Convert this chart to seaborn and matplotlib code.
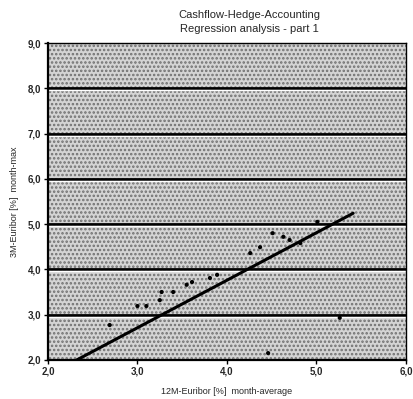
import matplotlib
matplotlib.use("Agg")
import matplotlib.pyplot as plt
from matplotlib.patches import Rectangle
import seaborn as sns
import pandas as pd

# data
x_obs = [3.55, 3.61, 3.40, 3.25, 3.27, 3.81, 3.89, 4.82, 4.70, 4.63, 4.51, 5.01,
         4.37, 4.26, 3.10, 3.00, 4.46, 5.26, 2.69]
y_obs = [3.66, 3.72, 3.50, 3.32, 3.50, 3.81, 3.88, 4.58, 4.65, 4.72, 4.80, 5.05,
         4.49, 4.36, 3.19, 3.19, 2.15, 2.93, 2.77]
fit_x = [2.32, 5.41]
fit_slope = 1.05
fit_intercept = -0.44
x_ticks = [2.0, 3.0, 4.0, 5.0, 6.0]
y_ticks = [2.0, 3.0, 4.0, 5.0, 6.0, 7.0, 8.0, 9.0]
title_lines = ["Cashflow-Hedge-Accounting", "Regression analysis - part 1"]
x_label = "12M-Euribor [%]  month-average"
y_label = "3M-Euribor [%]  month-max"

sns.set_style("white")
plt.rcParams['font.family'] = ['Liberation Sans', 'DejaVu Sans']
plt.rcParams['hatch.linewidth'] = 1.2

fig = plt.figure(figsize=(4.13, 3.99), dpi=100)
ax = fig.add_axes([0.116, 0.098, 0.867, 0.794])

# stippled (scanned) plot background
bg = Rectangle((0, 0), 1, 1, transform=ax.transAxes, facecolor='#d4d4d4',
               edgecolor='#707070', hatch='....', lw=0, zorder=0)
ax.add_patch(bg)

df_obs = pd.DataFrame({"x": x_obs, "y": y_obs})
fit_y = [fit_slope * v + fit_intercept for v in fit_x]
df_fit = pd.DataFrame({"x": fit_x, "y": fit_y})

for yv in y_ticks[1:-1]:
    ax.axhline(yv, color='black', lw=2.0, zorder=2)
    ax.axhline(yv - 0.045, color='white', lw=1.0, zorder=2)

sns.scatterplot(data=df_obs, x="x", y="y", ax=ax, color='black', s=9,
                edgecolor='none', zorder=3)
sns.lineplot(data=df_fit, x="x", y="y", ax=ax, color='black', lw=2.2, zorder=4)

ax.set_xlim(2.0, 6.0)
ax.set_ylim(2.0, 9.0)
ax.set_xticks(x_ticks)
ax.set_yticks(y_ticks)
ax.set_xticklabels([f"{v:.1f}".replace('.', ',') for v in x_ticks],
                   fontsize=7, fontweight='bold')
ax.set_yticklabels([f"{v:.1f}".replace('.', ',') for v in y_ticks],
                   fontsize=7, fontweight='bold')
ax.tick_params(axis='both', direction='out', length=3, width=1, color='black',
               pad=2, bottom=True, left=True)
ax.set_xlabel(x_label, fontsize=6.5, labelpad=7)
ax.set_ylabel(y_label, fontsize=6.5, labelpad=6)

for side in ['left', 'bottom']:
    ax.spines[side].set_linewidth(1.6)
    ax.spines[side].set_color('black')
for side in ['top', 'right']:
    ax.spines[side].set_linewidth(1.0)
    ax.spines[side].set_color('black')

fig.text(0.605, 0.963, title_lines[0], ha='center', va='center', fontsize=8)
fig.text(0.605, 0.928, title_lines[1], ha='center', va='center', fontsize=8)

fig.savefig("out.png", dpi=100)
